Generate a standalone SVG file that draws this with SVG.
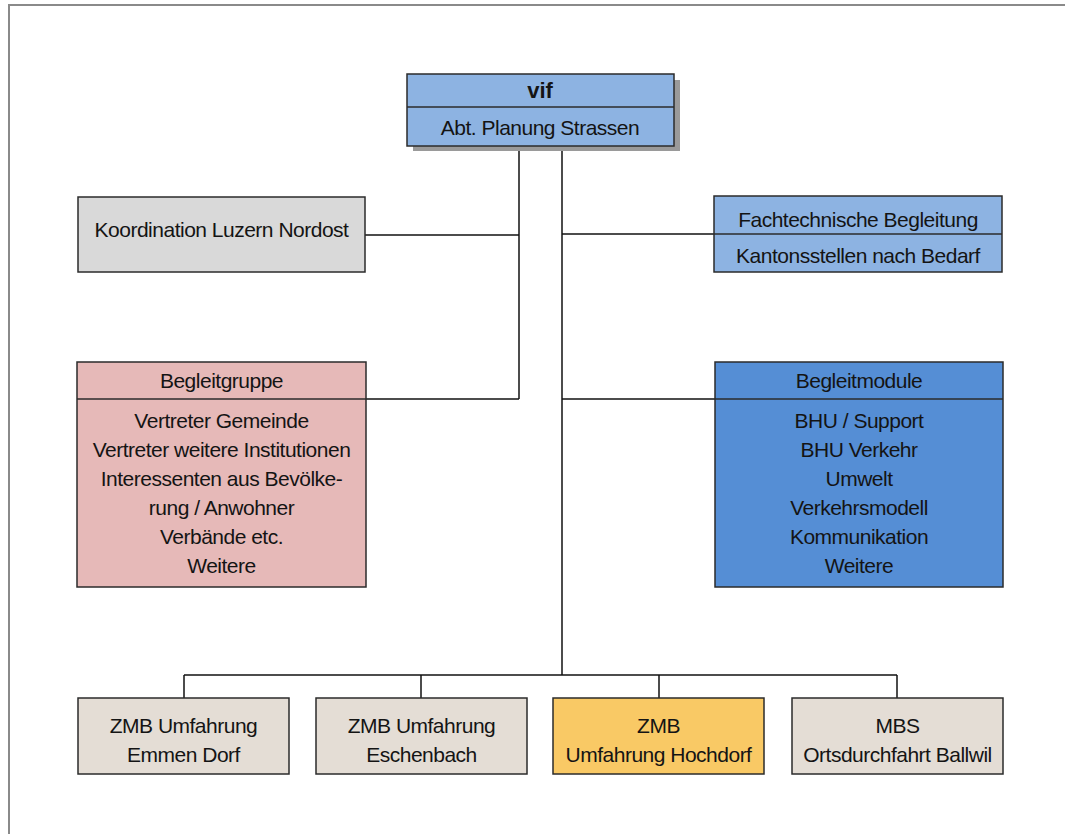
<svg xmlns="http://www.w3.org/2000/svg" width="1065" height="834" viewBox="0 0 1065 834">
<style>
  .box { stroke: #2b2b2b; stroke-width: 1.5; }
  .div { stroke: #2b2b2b; stroke-width: 1.5; fill: none; }
  .t { font-family: "Liberation Sans", Arial, sans-serif; font-size: 21px; letter-spacing: -0.5px; fill: #141414; text-anchor: middle; }
  .b { font-weight: bold; font-size: 22px; letter-spacing: 0; }
  .conn line { stroke: #111; stroke-width: 1.5; }
</style>
<rect x="0" y="0" width="1065" height="834" fill="#ffffff"/>
<path d="M9,834 V5 H1065" fill="none" stroke="#8a8a8a" stroke-width="2"/>
<g class="conn" id="connectors">
  <line x1="519" y1="147" x2="519" y2="399"/>
  <line x1="562" y1="147" x2="562" y2="675"/>
  <line x1="365" y1="235" x2="519" y2="235"/>
  <line x1="562" y1="234" x2="714" y2="234"/>
  <line x1="366" y1="399" x2="519" y2="399"/>
  <line x1="562" y1="399" x2="715" y2="399"/>
  <line x1="184" y1="675" x2="897" y2="675"/>
  <line x1="184" y1="675" x2="184" y2="698"/>
  <line x1="421" y1="675" x2="421" y2="698"/>
  <line x1="659" y1="675" x2="659" y2="698"/>
  <line x1="897" y1="675" x2="897" y2="698"/>
</g>
<g id="vif">
  <rect x="413" y="80" width="267" height="71" fill="#9a9a9a"/>
  <rect class="box" x="407" y="74" width="267" height="72" fill="#8db3e2"/>
  <line class="div" x1="407" y1="107" x2="674" y2="107"/>
  <text class="t b" x="540" y="98">vif</text>
  <text class="t" x="540" y="135">Abt. Planung Strassen</text>
</g>
<g id="koordination">
  <rect class="box" x="78" y="197" width="287" height="75" fill="#d9d9d9"/>
  <text class="t" x="221.5" y="237">Koordination Luzern Nordost</text>
</g>
<g id="fachtechnisch">
  <rect class="box" x="714" y="196" width="288" height="76" fill="#8db3e2"/>
  <line class="div" x1="714" y1="234" x2="1002" y2="234"/>
  <text class="t" x="858" y="227">Fachtechnische Begleitung</text>
  <text class="t" x="858" y="263">Kantonsstellen nach Bedarf</text>
</g>
<g id="begleitgruppe">
  <rect class="box" x="77" y="362" width="289" height="225" fill="#e6b9b8"/>
  <line class="div" x1="77" y1="399" x2="366" y2="399"/>
  <text class="t" x="221.5" y="388">Begleitgruppe</text>
  <text class="t" x="221.5" y="428">Vertreter Gemeinde</text>
  <text class="t" x="221.5" y="457">Vertreter weitere Institutionen</text>
  <text class="t" x="221.5" y="486">Interessenten aus Bevölke-</text>
  <text class="t" x="221.5" y="515">rung / Anwohner</text>
  <text class="t" x="221.5" y="544">Verbände etc.</text>
  <text class="t" x="221.5" y="573">Weitere</text>
</g>
<g id="begleitmodule">
  <rect class="box" x="715" y="362" width="288" height="225" fill="#558ed5"/>
  <line class="div" x1="715" y1="399" x2="1003" y2="399"/>
  <text class="t" x="859" y="388">Begleitmodule</text>
  <text class="t" x="859" y="428">BHU / Support</text>
  <text class="t" x="859" y="457">BHU Verkehr</text>
  <text class="t" x="859" y="486">Umwelt</text>
  <text class="t" x="859" y="515">Verkehrsmodell</text>
  <text class="t" x="859" y="544">Kommunikation</text>
  <text class="t" x="859" y="573">Weitere</text>
</g>
<g id="emmen">
  <rect class="box" x="78" y="698" width="211" height="76" fill="#e4ddd5"/>
  <text class="t" x="183.5" y="733">ZMB Umfahrung</text>
  <text class="t" x="183.5" y="762">Emmen Dorf</text>
</g>
<g id="eschenbach">
  <rect class="box" x="316" y="698" width="211" height="76" fill="#e4ddd5"/>
  <text class="t" x="421.5" y="733">ZMB Umfahrung</text>
  <text class="t" x="421.5" y="762">Eschenbach</text>
</g>
<g id="hochdorf">
  <rect class="box" x="553" y="698" width="211" height="76" fill="#f9c965"/>
  <text class="t" x="658.5" y="733">ZMB</text>
  <text class="t" x="658.5" y="762">Umfahrung Hochdorf</text>
</g>
<g id="ballwil">
  <rect class="box" x="792" y="698" width="211" height="76" fill="#e4ddd5"/>
  <text class="t" x="897.5" y="733">MBS</text>
  <text class="t" x="897.5" y="762">Ortsdurchfahrt Ballwil</text>
</g>
</svg>
